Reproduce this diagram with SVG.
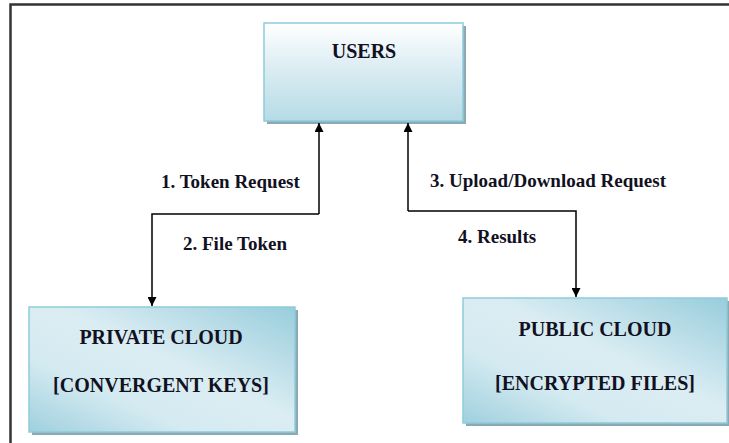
<svg xmlns="http://www.w3.org/2000/svg" width="729" height="443" viewBox="0 0 729 443">
<style>
.t{font-family:"Liberation Serif","Times New Roman",serif;font-weight:bold;font-size:19px;fill:#111122}
.b{font-size:20px}
.c{text-anchor:middle}
.box{stroke:#8ecbdb;stroke-width:1.5}
.sh{fill:#8aa9b3}
.ln{fill:none;stroke:#000;stroke-width:1.5}
</style>
<defs>
<linearGradient id="gU" x1="0" y1="0" x2="0" y2="1">
<stop offset="0" stop-color="#ffffff"/>
<stop offset="0.45" stop-color="#dcedf3"/>
<stop offset="1" stop-color="#b5dbe6"/>
</linearGradient>
<linearGradient id="gC" x1="0" y1="1" x2="1" y2="0">
<stop offset="0" stop-color="#9fd0de"/>
<stop offset="0.3" stop-color="#d4eaf1"/>
<stop offset="0.55" stop-color="#dbedf3"/>
<stop offset="1" stop-color="#98cddc"/>
</linearGradient>
<marker id="ah" viewBox="0 0 10 10" refX="10" refY="5" markerWidth="9" markerHeight="9" markerUnits="userSpaceOnUse" orient="auto">
<path d="M0,0 L10,5 L0,10 z" fill="#000"/>
</marker>
</defs>
<g id="frame">
<path d="M10.5,443 V4.5 H729" fill="none" stroke="#333" stroke-width="2.5"/>
</g>
<g id="users">
<rect class="sh" x="267" y="26" width="199" height="98"/>
<rect class="box" x="264" y="23" width="199" height="98" fill="url(#gU)"/>
<text class="t b c" x="364" y="58">USERS</text>
</g>
<g id="private-cloud">
<rect class="sh" x="32" y="310" width="266" height="125"/>
<rect class="box" x="29" y="307" width="266" height="125" fill="url(#gC)"/>
<text class="t b c" x="161" y="344">PRIVATE CLOUD</text>
<text class="t b c" x="161" y="392">[CONVERGENT KEYS]</text>
</g>
<g id="public-cloud">
<rect class="sh" x="466" y="301" width="266" height="125"/>
<rect class="box" x="463" y="298" width="264" height="125" fill="url(#gC)"/>
<text class="t b c" x="595" y="336">PUBLIC CLOUD</text>
<text class="t b c" x="595" y="390">[ENCRYPTED FILES]</text>
</g>
<g id="connectors">
<path class="ln" d="M319,214 V123" marker-end="url(#ah)"/>
<path class="ln" d="M319,214 H152 V306" marker-end="url(#ah)"/>
<path class="ln" d="M408,211 V123" marker-end="url(#ah)"/>
<path class="ln" d="M408,211 H576 V297" marker-end="url(#ah)"/>
<text class="t" x="161" y="188">1. Token Request</text>
<text class="t" x="183" y="250">2. File Token</text>
<text class="t" x="430" y="187">3. Upload/Download Request</text>
<text class="t" x="458" y="243">4. Results</text>
</g>
</svg>
